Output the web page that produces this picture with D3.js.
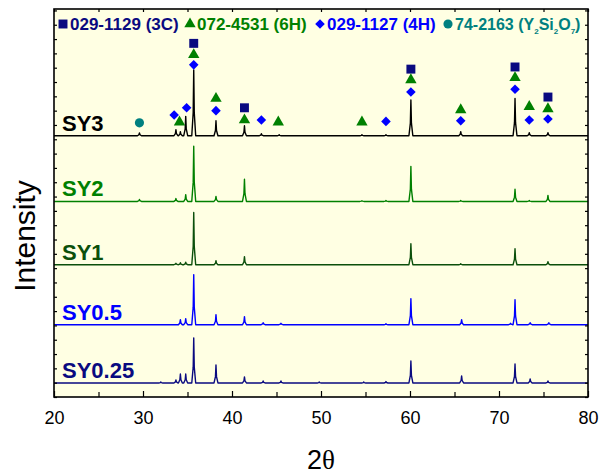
<!DOCTYPE html>
<html>
<head>
<meta charset="utf-8">
<script src="https://cdn.jsdelivr.net/npm/d3@7"></script>
<style>
  body { margin: 0; background: #fff; }
  svg { display: block; font-family: Arial, "Liberation Sans", sans-serif; }
</style>
</head>
<body>
<div id="chart"></div>
<script>
// samples, their vertical offsets (a.u.) and colours
const samples = ["SY3", "SY2", "SY1", "SY0.5", "SY0.25"];
const offsets = [1825, 1366, 924, 505, 98];
const colors = ["#000000", "#008000", "#0b4f0b", "#0000ff", "#0a0a80"];

// peak lists [2theta, height above baseline]
const peaksSY3 = [[29.6, 20], [33.7, 42], [34.2, 28], [34.8, 135], [35.7, 460], [38.2, 105], [41.4, 70],
  [43.3, 14], [45.3, 7], [54.6, 7], [57.3, 7], [60.1, 250], [65.7, 28], [71.8, 260], [73.4, 21], [75.5, 21]];
const peaksSY2 = [[29.6, 14], [33.7, 20], [34.8, 47], [35.7, 385], [38.2, 35], [41.4, 155], [54.6, 5],
  [57.3, 7], [60.1, 245], [65.7, 7], [71.8, 85], [73.4, 7], [75.5, 42]];
const peaksSY1 = [[33.7, 10], [34.2, 14], [34.8, 18], [35.7, 365], [38.2, 28], [41.4, 56], [60.1, 147],
  [65.7, 7], [71.8, 112], [75.5, 21]];
const peaksSY05 = [[34.2, 35], [34.8, 42], [35.7, 350], [38.2, 70], [41.4, 56], [43.5, 14], [45.5, 10],
  [57.3, 7], [60.1, 182], [65.8, 35], [71.3, 10], [71.8, 175], [73.5, 14], [75.6, 14]];
const peaksSY025 = [[32.0, 7], [33.7, 21], [34.2, 63], [34.8, 63], [35.7, 315], [38.2, 126], [41.4, 42],
  [43.5, 14], [45.5, 14], [49.8, 7], [54.8, 7], [57.3, 10], [60.1, 154], [65.8, 49], [71.8, 133],
  [73.5, 28], [75.5, 14]];
const peakSets = [peaksSY3, peaksSY2, peaksSY1, peaksSY05, peaksSY025];

// phase markers [2theta, level (a.u.)]
const phase3C = [[35.7, 2470], [41.4, 2020], [60.1, 2290], [71.8, 2305], [75.5, 2095]];
const phase6H = [[34.1, 1920], [35.7, 2390], [38.2, 2085], [41.4, 1935], [45.2, 1920], [54.6, 1920],
  [60.1, 2215], [65.7, 2005], [71.8, 2230], [73.4, 2028], [75.5, 2012]];
const phase4H = [[33.5, 1970], [34.9, 2020], [35.7, 2320], [38.2, 2000], [43.3, 1935], [57.3, 1925],
  [60.1, 2130], [65.7, 1930], [71.8, 2150], [73.4, 1935], [75.5, 1942]];
const phaseY2Si2O7 = [[29.6, 1915]];

const xTicks = [20, 30, 40, 50, 60, 70, 80];
const xMinor = [25, 35, 45, 55, 65, 75];

const width = 599, height = 476;
const margin = { top: 9, right: 11, bottom: 79, left: 54 };
const plotW = width - margin.left - margin.right;
const plotH = height - margin.top - margin.bottom;

const svg = d3.select("#chart").append("svg")
  .attr("width", width).attr("height", height);

const g = svg.append("g").attr("transform", `translate(${margin.left},${margin.top})`);

const x = d3.scaleLinear().domain([20, 80]).range([0, plotW]);
const y = d3.scaleLinear().domain([0, 2710]).range([plotH, 0]);

g.append("rect").attr("width", plotW).attr("height", plotH).attr("fill", "#ffffe3");

// build each pattern as a polyline from its peak list
function pattern(peaks, base) {
  const pts = [[20, base]];
  const w = 0.22;
  peaks.forEach(([p, h]) => {
    pts.push([p - w, base], [p - 0.06, base + h * 0.35], [p, base + h], [p + 0.06, base + h * 0.35], [p + w, base]);
  });
  pts.push([80, base]);
  return pts;
}

const line = d3.line().x(d => x(d[0])).y(d => y(d[1]));

peakSets.forEach((peaks, i) => {
  g.append("path")
    .datum(pattern(peaks, offsets[i]))
    .attr("fill", "none")
    .attr("stroke", colors[i])
    .attr("stroke-width", 1.4)
    .attr("stroke-linejoin", "round")
    .attr("d", line);

  g.append("text")
    .attr("x", 8)
    .attr("y", y(offsets[i]) - 5)
    .attr("font-size", 22)
    .attr("font-weight", "bold")
    .attr("fill", colors[i])
    .text(samples[i]);
});

// markers
const sq = d3.symbol().type(d3.symbolSquare).size(80);
const tri = d3.symbol().type(d3.symbolTriangle).size(56);
const dia = d3.symbol().type(d3.symbolSquare).size(46);
const circ = d3.symbol().type(d3.symbolCircle).size(66);

function drawMarkers(data, gen, color, rot) {
  g.selectAll(null).data(data).enter().append("path")
    .attr("d", gen)
    .attr("fill", color)
    .attr("transform", d => `translate(${x(d[0])},${y(d[1])}) rotate(${rot})`);
}
drawMarkers(phase3C, sq, "#0a0a80", 0);
drawMarkers(phase6H, tri, "#008000", 0);
drawMarkers(phase4H, dia, "#0000ff", 45);
drawMarkers(phaseY2Si2O7, circ, "#008080", 0);

// legend
const legend = [
  { gen: sq, color: "#0a0a80", rot: 0, x: 9, label: "029-1129 (3C)" },
  { gen: tri, color: "#008000", rot: 0, x: 136, label: "072-4531 (6H)" },
  { gen: dia, color: "#0000ff", rot: 45, x: 266, label: "029-1127 (4H)" }
];
const ly = 15;
legend.forEach(l => {
  g.append("path").attr("d", l.gen).attr("fill", l.color)
    .attr("transform", `translate(${l.x},${ly}) rotate(${l.rot})`);
  g.append("text").attr("x", l.x + 7).attr("y", ly + 6)
    .attr("font-size", 17).attr("font-weight", "bold").attr("fill", l.color)
    .text(l.label);
});
g.append("path").attr("d", circ).attr("fill", "#008080")
  .attr("transform", `translate(394,${ly})`);
const t4 = g.append("text").attr("x", 401).attr("y", ly + 6)
  .attr("font-size", 16).attr("font-weight", "bold").attr("fill", "#008080");
t4.append("tspan").text("74-2163 (Y");
t4.append("tspan").attr("font-size", 8).attr("dy", 4).text("2");
t4.append("tspan").attr("dy", -4).text("Si");
t4.append("tspan").attr("font-size", 8).attr("dy", 4).text("2");
t4.append("tspan").attr("dy", -4).text("O");
t4.append("tspan").attr("font-size", 8).attr("dy", 4).text("7");
t4.append("tspan").attr("dy", -4).text(")");

// axes, ticks pointing inward
const yTicks = d3.range(0, 2701, 100);
g.append("g").attr("transform", `translate(0,${plotH})`)
  .call(d3.axisBottom(x).tickValues(xTicks).tickSize(-6).tickPadding(14).tickFormat(d3.format("d")))
  .call(a => a.selectAll("text").attr("font-size", 18).attr("fill", "#000").attr("font-family", "Arial, 'Liberation Sans', sans-serif"));
g.append("g").attr("transform", `translate(0,${plotH})`)
  .call(d3.axisBottom(x).tickValues(xMinor).tickSize(-5).tickFormat(""));
g.append("g").call(d3.axisTop(x).tickValues(xTicks.concat(xMinor)).tickSize(-3).tickFormat(""));
g.append("g").call(d3.axisLeft(y).tickValues(yTicks).tickSize(-3).tickFormat(""));
g.append("g").attr("transform", `translate(${plotW},0)`)
  .call(d3.axisRight(y).tickValues(yTicks).tickSize(-3).tickFormat(""));
g.selectAll(".domain").remove();
g.selectAll(".tick line").attr("stroke", "#000").attr("stroke-width", 1.2);

g.append("rect").attr("width", plotW).attr("height", plotH)
  .attr("fill", "none").attr("stroke", "#000").attr("stroke-width", 1.6);

// axis titles
svg.append("text")
  .attr("x", margin.left + plotW / 2).attr("y", 469)
  .attr("text-anchor", "middle").attr("font-size", 27)
  .text("2")
  .append("tspan").attr("font-family", "'Liberation Serif', 'DejaVu Serif', serif").text("θ");

svg.append("text")
  .attr("transform", "translate(35,236) rotate(-90)")
  .attr("text-anchor", "middle").attr("font-size", 30)
  .text("Intensity");
</script>
</body>
</html>
